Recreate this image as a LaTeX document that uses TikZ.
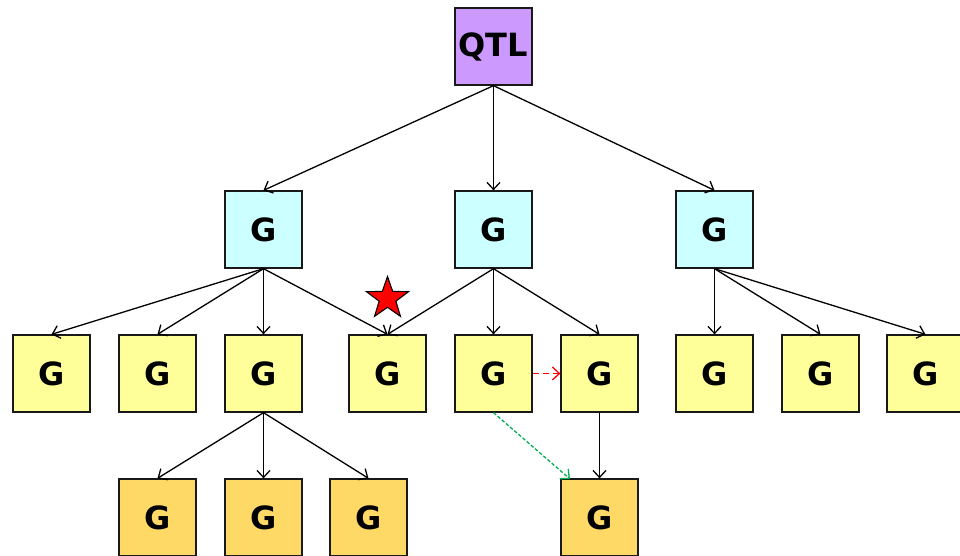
\documentclass[tikz,border=0pt]{standalone}
\usepackage{fontspec}
\setmainfont{DejaVu Sans}
\usetikzlibrary{arrows.meta,shapes.geometric}
\definecolor{qtlc}{HTML}{CC99FF}
\definecolor{lvla}{HTML}{CCFFFF}
\definecolor{lvlb}{HTML}{FFFF99}
\definecolor{lvlc}{HTML}{FFD966}
\definecolor{greenarr}{HTML}{00B050}
\tikzset{
  box/.style={draw=black!90, line width=1.3pt, minimum width=77pt, minimum height=77pt, inner sep=0pt,
    font=\fontsize{32}{38}\selectfont\bfseries},
  qtlbox/.style={box, fill=qtlc},
  gbox/.style={box, fill=lvla},
  ybox/.style={box, fill=lvlb},
  obox/.style={box, fill=lvlc},
  edge/.style={color=black, line width=1.3pt, -{Straight Barb[length=7pt,width=13pt,line width=1.3pt]}},
  redarr/.style={edge, color=red, dash pattern=on 6pt off 4pt},
  greenlink/.style={edge, color=greenarr, dash pattern=on 3.5pt off 2pt}
}
\begin{document}
\begin{tikzpicture}[x=1pt,y=-1pt]
\useasboundingbox (0,0) rectangle (960,555);
\node[qtlbox] (qtl) at (493.5,46.5) {QTL};
\node[gbox] (a1) at (263.5,229.5) {G};
\node[gbox] (a2) at (493.5,229.5) {G};
\node[gbox] (a3) at (714.5,229.5) {G};
\node[ybox] (b1) at (51.5,373.5) {G};
\node[ybox] (b2) at (157.5,373.5) {G};
\node[ybox] (b3) at (263.5,373.5) {G};
\node[ybox] (b4) at (387.5,373.5) {G};
\node[ybox] (b5) at (493.5,373.5) {G};
\node[ybox] (b6) at (599.5,373.5) {G};
\node[ybox] (b7) at (714.5,373.5) {G};
\node[ybox] (b8) at (820.5,373.5) {G};
\node[ybox] (b9) at (925.5,373.5) {G};
\node[obox] (c1) at (157.5,517.5) {G};
\node[obox] (c2) at (263.5,517.5) {G};
\node[obox] (c3) at (368.5,517.5) {G};
\node[obox] (c4) at (599.5,517.5) {G};
\node[star, star points=5, star point ratio=2.5, minimum size=44pt, inner sep=0pt,
  fill=red, draw=black, line width=1.1pt] (st) at (387.5,298.5) {};
\draw[edge] (qtl.south) -- (a1.north);
\draw[edge] (qtl.south) -- (a2.north);
\draw[edge] (qtl.south) -- (a3.north);
\draw[edge] (a1.south) -- (b1.north);
\draw[edge] (a1.south) -- (b2.north);
\draw[edge] (a1.south) -- (b3.north);
\draw[edge] (a1.south) -- (b4.north);
\draw[edge] (a2.south) -- (b4.north);
\draw[edge] (a2.south) -- (b5.north);
\draw[edge] (a2.south) -- (b6.north);
\draw[edge] (a3.south) -- (b7.north);
\draw[edge] (a3.south) -- (b8.north);
\draw[edge] (a3.south) -- (b9.north);
\draw[edge] (b3.south) -- (c1.north);
\draw[edge] (b3.south) -- (c2.north);
\draw[edge] (b3.south) -- (c3.north);
\draw[edge] (b6.south) -- (c4.north);
\draw[redarr] (b5.east) -- (b6.west);
\coordinate (gt) at (570,479);
\draw[greenlink] (b5.south) -- (gt);
\end{tikzpicture}
\end{document}
